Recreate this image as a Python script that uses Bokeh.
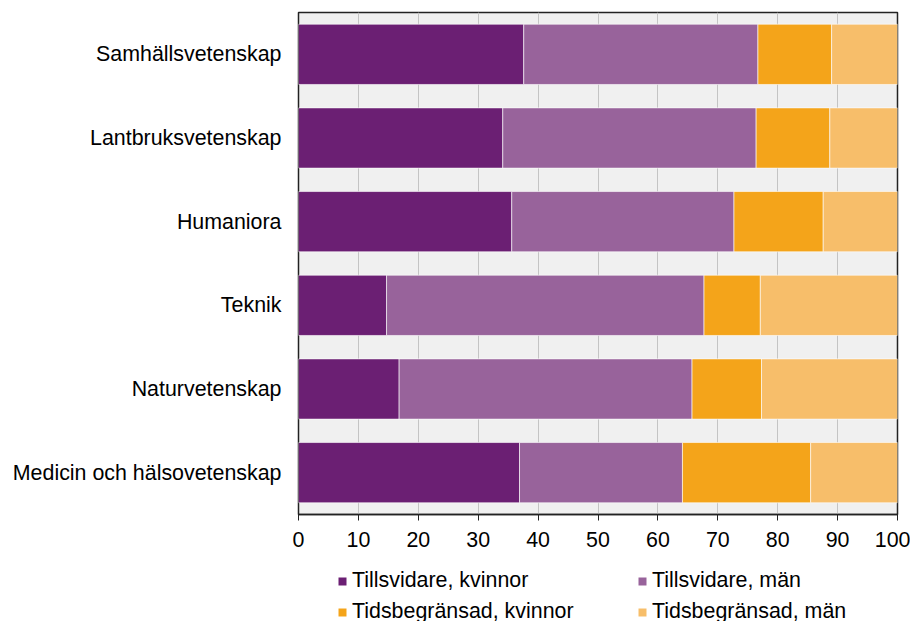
from bokeh.plotting import figure
from bokeh.layouts import column
from bokeh.models import FactorRange, Range1d, Legend, LegendItem, SingleIntervalTicker, ColumnDataSource
from bokeh.embed import file_html
from bokeh.resources import INLINE

categories = ["Samhällsvetenskap", "Lantbruksvetenskap", "Humaniora", "Teknik",
              "Naturvetenskap", "Medicin och hälsovetenskap"]
tills_kvinnor = [37.6, 34.1, 35.6, 14.7, 16.8, 36.9]
tills_man = [39.1, 42.3, 37.1, 53.0, 48.9, 27.2]
tids_kvinnor = [12.3, 12.3, 14.9, 9.4, 11.6, 21.4]
tids_man = [11.0, 11.3, 12.4, 22.9, 22.7, 14.5]
series_names = ["Tillsvidare, kvinnor", "Tillsvidare, män", "Tidsbegränsad, kvinnor", "Tidsbegränsad, män"]
colors = ["#6b1f73", "#98639b", "#f4a41a", "#f7be6a"]
x_ticks_interval = 10

FONT = "Liberation Sans"
FS = "21.4px"
keys = ["s0", "s1", "s2", "s3"]

src = ColumnDataSource(dict(cat=categories, s0=tills_kvinnor, s1=tills_man, s2=tids_kvinnor, s3=tids_man))

p = figure(width=910, height=560, output_backend="svg", toolbar_location=None,
           y_range=FactorRange(factors=list(reversed(categories)), range_padding=0),
           x_range=Range1d(0, 100),
           min_border_left=298, min_border_right=13, min_border_top=12, min_border_bottom=46)
p.background_fill_color = "#f0f0f0"
p.border_fill_color = "white"
p.outline_line_color = "#222222"
p.outline_line_width = 1.5

renderers = p.hbar_stack(keys, y="cat", height=0.72, source=src,
                         color=colors, line_color="white", line_alpha=0.6, line_width=1)

p.xgrid.grid_line_color = "#c4c4c4"
p.xgrid.grid_line_width = 1
p.ygrid.grid_line_color = None
p.xaxis.ticker = SingleIntervalTicker(interval=x_ticks_interval)
p.xaxis.major_label_text_font = FONT
p.xaxis.major_label_text_font_size = FS
p.xaxis.major_label_text_color = "black"
p.xaxis.axis_line_color = "#222222"
p.xaxis.axis_line_width = 1.5
p.xaxis.major_tick_line_color = "#222222"
p.xaxis.major_tick_out = 6
p.xaxis.major_tick_in = 0
p.xaxis.minor_tick_line_color = None
p.xaxis.major_label_standoff = 11

p.yaxis.axis_line_color = None
p.yaxis.major_tick_line_color = None
p.yaxis.minor_tick_line_color = None
p.yaxis.major_tick_out = 0
p.yaxis.major_tick_in = 0
p.yaxis.major_label_standoff = 17
p.yaxis.major_label_text_font = FONT
p.yaxis.major_label_text_font_size = FS
p.yaxis.major_label_text_color = "black"

# legend panel (its frame is aligned with the main frame by the column layout)
p2 = figure(width=910, height=61, output_backend="svg", toolbar_location=None,
            x_range=Range1d(0, 1), y_range=Range1d(0, 1),
            min_border_left=298, min_border_right=13, min_border_top=0, min_border_bottom=0)
p2.axis.visible = False
p2.grid.visible = False
p2.outline_line_color = None
p2.background_fill_color = "white"
p2.border_fill_color = "white"
# swatch-only renderers placed outside the visible range
swatch = ColumnDataSource(dict(y=[-5], left=[-5], right=[-4]))
leg_r = [p2.hbar(y="y", left="left", right="right", height=0.5, source=swatch, fill_color=c, line_color=None)
         for c in colors]
items = [LegendItem(label=series_names[i], renderers=[leg_r[i]]) for i in range(4)]
lg = Legend(items=items, location=(39, -3), orientation="horizontal", nrows=2,
            glyph_width=10, glyph_height=10, label_standoff=5, spacing=6,
            padding=0, margin=0, border_line_alpha=0, background_fill_alpha=0,
            label_text_font=FONT, label_text_font_size=FS, label_text_color="black",
            label_height=24, label_width=279)
p2.add_layout(lg, "center")

layout = column(p, p2, spacing=0)
open("out.html", "w").write(file_html(layout, INLINE))
